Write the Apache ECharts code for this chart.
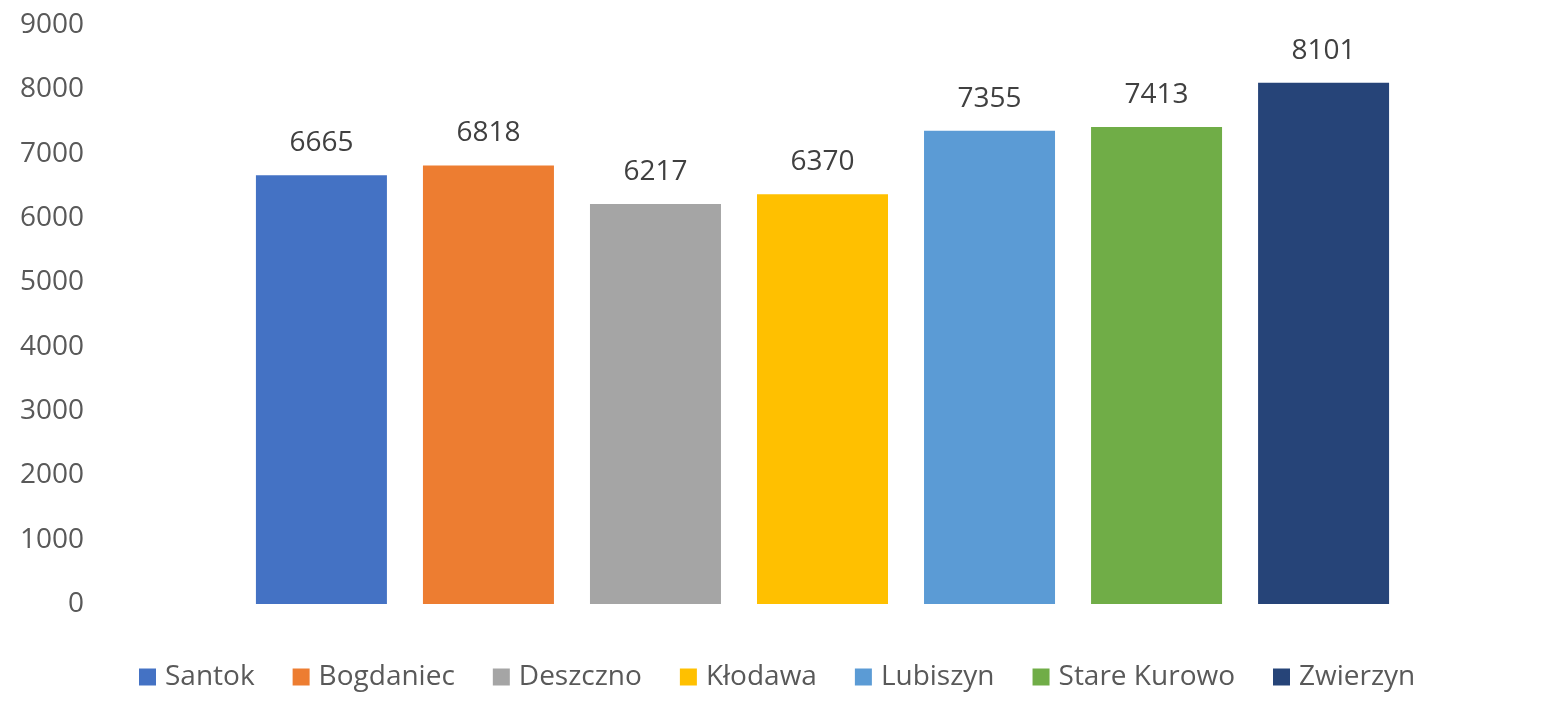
<!DOCTYPE html>
<html>
<head>
<meta charset="utf-8">
<script src="https://cdn.jsdelivr.net/npm/echarts@6/dist/echarts.min.js"></script>
<style>html,body{margin:0;padding:0;background:#fff}#c{width:1557px;height:721px}</style>
</head>
<body>
<div id="c"></div>
<script>
const categories = [''];
const seriesNames = ['Santok', 'Bogdaniec', 'Deszczno', 'Kłodawa', 'Lubiszyn', 'Stare Kurowo', 'Zwierzyn'];
const seriesValues = [6665, 6818, 6217, 6370, 7355, 7413, 8101];
const seriesColors = ['#4472C4', '#ED7D31', '#A5A5A5', '#FFC000', '#5B9BD5', '#70AD47', '#264478'];
const yTicks = [0, 1000, 2000, 3000, 4000, 5000, 6000, 7000, 8000, 9000];

const font = '"Open Sans", "Noto Sans", sans-serif';
const chart = echarts.init(document.getElementById('c'), null, {renderer: 'canvas'});
chart.setOption({
  animation: false,
  grid: {left: 95, right: 7, top: 25, bottom: 117, containLabel: false},
  legend: {
    top: 658,
    left: 134,
    itemWidth: 17,
    itemHeight: 17,
    itemGap: 38,
    icon: 'rect',
    textStyle: {color: '#595959', fontSize: 28, fontFamily: font, padding: [0, 0, 0, 4]},
    data: seriesNames
  },
  xAxis: {
    type: 'category',
    data: categories,
    axisLine: {show: false},
    axisTick: {show: false},
    axisLabel: {show: false}
  },
  yAxis: {
    type: 'value',
    min: yTicks[0],
    max: yTicks[yTicks.length - 1],
    interval: 1000,
    axisLine: {show: false},
    axisTick: {show: false},
    splitLine: {show: false},
    axisLabel: {color: '#595959', fontSize: 28, fontFamily: font, margin: 11, formatter: v => String(v)}
  },
  series: seriesNames.map((n, i) => ({
    name: n,
    type: 'bar',
    data: [seriesValues[i]],
    barWidth: 131,
    barGap: '27.5%',
    itemStyle: {color: seriesColors[i]},
    label: {show: true, position: 'top', distance: 18, color: '#404040', fontSize: 28, fontFamily: font}
  }))
});
</script>
</body>
</html>
